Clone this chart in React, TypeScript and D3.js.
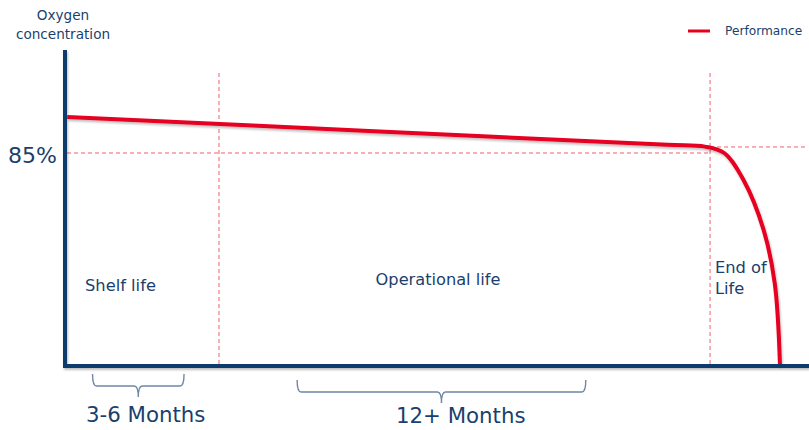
import React from "react";
import * as d3 from "d3";

// Performance curve: time (arbitrary units 0-100) vs oxygen concentration (%)
const perfTime = [0.3, 43, 81, 86.0, 88.6, 91.2, 93.9, 95.4, 96.1];
const perfValue = [99.4, 93.5, 88.24, 87.55, 85.0, 74.2, 54.3, 32.9, 0.3];
const phaseBoundaries = [20.7, 86.7];
const thresholdValue = 85;
const thresholdRightValue = 87.4;
const phaseLabels = ["Shelf life", "Operational life"];
const eolLabel = ["End of", "Life"];
const durationLabels = ["3-6 Months", "12+ Months"];
const durationStart = [3.7, 31.2];
const durationEnd = [16.0, 70.0];
const yTickLabel = "85%";
const yAxisTitle = ["Oxygen", "concentration"];
const legendLabel = "Performance";

const W = 809;
const H = 430;
const NAVY = "#0c3a6c";
const TEXT = "#1b3f6d";
const RED = "#e60020";
const FONT = "'DejaVu Sans', Verdana, sans-serif";

export default function App() {
  const x = d3.scaleLinear().domain([0, 100]).range([65, 809]);
  const y = d3.scaleLinear().domain([0, 100]).range([366, 115.4]);
  const pts = perfTime.map((t, i) => [t, perfValue[i]] as [number, number]);
  const line = d3
    .line<[number, number]>()
    .x((d) => x(d[0]))
    .y((d) => y(d[1]))
    .curve(d3.curveCatmullRom.alpha(0.5));
  const pathD = line(pts) || "";

  const brace = (x1: number, x2: number, top: number, bot: number, tip: number, mid: number) => {
    const r = 4;
    return `M${x1},${top} Q${x1},${bot} ${x1 + r},${bot} L${mid - r},${bot} Q${mid},${bot} ${mid},${tip} Q${mid},${bot} ${mid + r},${bot} L${x2 - r},${bot} Q${x2},${bot} ${x2},${top}`;
  };

  const x0 = x(0);
  const yBase = y(0);

  return (
    <div style={{ position: "absolute", left: 0, top: 0 }}>
      <svg width={W} height={H} style={{ display: "block", background: "#fff" }}>
        <defs>
          <filter id="sh" x="-5%" y="-5%" width="110%" height="120%">
            <feDropShadow dx="1" dy="2" stdDeviation="1.2" floodColor="#000" floodOpacity="0.25" />
          </filter>
        </defs>
        {/* y axis title */}
        <text x={63} y={20} textAnchor="middle" fontFamily={FONT} fontSize={13.6} fill={TEXT}>
          {yAxisTitle[0]}
        </text>
        <text x={63} y={39} textAnchor="middle" fontFamily={FONT} fontSize={13.6} fill={TEXT}>
          {yAxisTitle[1]}
        </text>

        {/* threshold dashed lines */}
        <line
          x1={x0 + 2}
          x2={x(phaseBoundaries[1])}
          y1={y(thresholdValue)}
          y2={y(thresholdValue)}
          stroke="#f0606a"
          strokeWidth={1}
          strokeDasharray="4,3"
        />
        <line
          x1={x(phaseBoundaries[1])}
          x2={805}
          y1={y(thresholdRightValue)}
          y2={y(thresholdRightValue)}
          stroke="#f0606a"
          strokeWidth={1}
          strokeDasharray="4,3"
        />
        {/* phase boundaries */}
        {phaseBoundaries.map((b, i) => (
          <line
            key={i}
            x1={x(b)}
            x2={x(b)}
            y1={73}
            y2={yBase - 2}
            stroke="#f0606a"
            strokeWidth={1}
            strokeDasharray="4,3"
          />
        ))}

        {/* y tick label */}
        <text x={8} y={163} fontFamily={FONT} fontSize={22} fill={TEXT}>
          {yTickLabel}
        </text>

        {/* performance curve */}
        <path d={pathD} fill="none" stroke={RED} strokeWidth={4} filter="url(#sh)" strokeLinecap="butt" />

        {/* axes */}
        <g filter="url(#sh)">
          <line x1={x0} x2={x0} y1={50} y2={yBase + 2} stroke={NAVY} strokeWidth={4} />
          <line x1={x0 - 2} x2={809} y1={yBase} y2={yBase} stroke={NAVY} strokeWidth={4} />
        </g>

        {/* phase labels */}
        <text x={85} y={291} fontFamily={FONT} fontSize={16.3} fill={TEXT}>
          {phaseLabels[0]}
        </text>
        <text x={438} y={285} textAnchor="middle" fontFamily={FONT} fontSize={16.2} fill={TEXT}>
          {phaseLabels[1]}
        </text>
        <text x={715} y={273} fontFamily={FONT} fontSize={16.3} fill={TEXT}>
          {eolLabel[0]}
        </text>
        <text x={715} y={294} fontFamily={FONT} fontSize={16.3} fill={TEXT}>
          {eolLabel[1]}
        </text>

        {/* braces */}
        <path
          d={brace(x(durationStart[0]), x(durationEnd[0]), 374, 386, 397, (x(durationStart[0]) + x(durationEnd[0])) / 2)}
          fill="none"
          stroke="#6f86a6"
          strokeWidth={1.4}
        />
        <path
          d={brace(x(durationStart[1]), x(durationEnd[1]), 380, 392, 403, (x(durationStart[1]) + x(durationEnd[1])) / 2)}
          fill="none"
          stroke="#6f86a6"
          strokeWidth={1.4}
        />
        <text x={86} y={422} fontFamily={FONT} fontSize={21.3} fill={TEXT}>
          {durationLabels[0]}
        </text>
        <text x={396} y={423} fontFamily={FONT} fontSize={21.3} fill={TEXT}>
          {durationLabels[1]}
        </text>

        {/* legend */}
        <line x1={688} x2={710} y1={31} y2={31} stroke={RED} strokeWidth={3} />
        <text x={725} y={35} fontFamily={FONT} fontSize={12.2} fill={TEXT}>
          {legendLabel}
        </text>
      </svg>
    </div>
  );
}
